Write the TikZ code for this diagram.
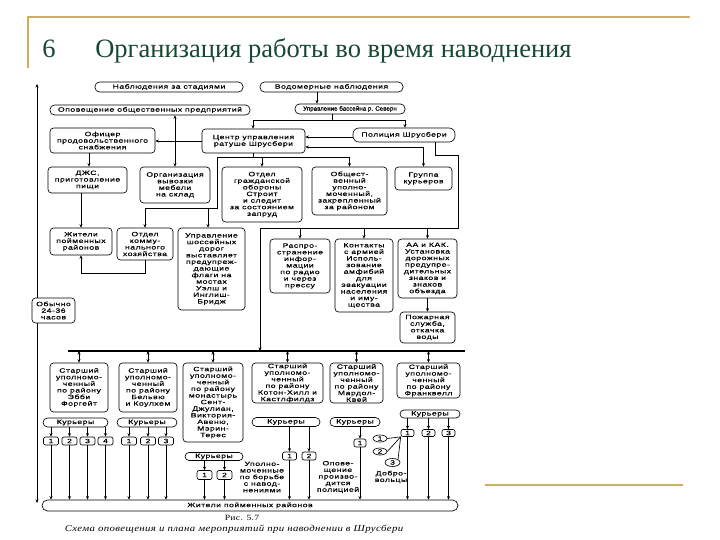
\documentclass[tikz,border=0pt]{standalone}
\usepackage{fontspec}
\setmainfont{Liberation Serif}
\newfontfamily\dfont[FakeStretch=1.4,LetterSpace=8,FakeBold=0.4]{Liberation Sans}
\newfontfamily\dfontn[FakeBold=0.4]{Liberation Sans}
\newfontfamily\capfont[FakeStretch=1.2,LetterSpace=4]{Liberation Serif}
\usetikzlibrary{arrows.meta,shapes.geometric}
\definecolor{gold}{RGB}{204,176,96}
\definecolor{ttl}{RGB}{24,72,52}
\newcommand\dsz{\dfont\fontsize{6.2}{6.6}\selectfont}
\newcommand\dszn{\dfontn\fontsize{6.2}{6.6}\selectfont}
\begin{document}
\begin{tikzpicture}[x=1pt,y=-1pt, line width=0.65pt, >={Stealth[length=3.5pt,width=3pt]},
 bx/.style={draw, rounded corners=3.5pt, align=center, inner sep=0.5pt, font=\dsz, fill=white},
 pill/.style={draw, rounded corners=4.5pt, align=center, inner sep=0.5pt, font=\dsz, fill=white},
 nb/.style={draw, rounded corners=2pt, inner sep=0pt, font=\dsz, fill=white, minimum height=8},
 el/.style={draw, ellipse, inner sep=0pt, font=\dsz, fill=white, minimum width=14, minimum height=7},
 lbl/.style={align=center, inner sep=0pt, font=\dsz},
 ar/.style={->}, dar/.style={<->}]
\useasboundingbox (0,0) rectangle (720,540);
% slide decoration
\draw[gold, line width=2pt] (27,17) -- (690,17);
\draw[gold, line width=1.5pt] (28,17) -- (28,68);
\draw[gold, line width=2pt] (485,485) -- (683,485);
\node[anchor=base west, inner sep=0, text=ttl, font=\fontsize{26.5}{30}\selectfont] (num) at (42,58) {6};
\node[anchor=base west, inner sep=0, text=ttl, font=\fontsize{26.5}{30}\selectfont] (title) at (95,58) {Организация работы во время наводнения};

% left time line
\coordinate (Ltop) at (37,84);
\coordinate (Lbot) at (37,503);
\draw[dar] (Ltop) -- (Lbot);

% top rows
\node[pill, minimum width=148, minimum height=10] (A) at (169,87) {Наблюдения за стадиями};
\node[pill, minimum width=143, minimum height=10] (B) at (331.5,87) {Водомерные наблюдения};
\node[pill, minimum width=200, minimum height=10] (C) at (150,110) {Оповещение общественных предприятий};
\node[pill, minimum width=110, minimum height=10, font=\dszn] (D) at (350,109) {Управление бассейна р. Северн};
\node[bx, minimum width=105, minimum height=25] (E) at (102.5,140.5) {Офицер\\продовольственного\\снабжения};
\node[bx, minimum width=103, minimum height=24] (F) at (253.5,141) {Центр управления\\ратуше Шрусбери};
\node[pill, minimum width=102, minimum height=14, rounded corners=6pt] (G) at (404,135) {Полиция Шрусбери};

\node[bx, minimum width=79, minimum height=26] (H) at (87.5,180) {ДЖС,\\приготовление\\пищи};
\node[bx, minimum width=70, minimum height=36] (I) at (175,185) {Организация\\вывозки\\мебели\\на склад};
\node[bx, minimum width=80, minimum height=55] (J) at (262,194.5) {Отдел\\гражданской\\обороны\\Строит\\и следит\\за состоянием\\запруд};
\node[bx, minimum width=75, minimum height=48] (K) at (349.5,191) {Общест-\\венный\\уполно-\\моченный,\\закрепленный\\за районом};
\node[bx, minimum width=57, minimum height=23] (L) at (423.5,178.5) {Группа\\курьеров};

\node[bx, minimum width=62, minimum height=27] (M) at (81,241.5) {Жители\\пойменных\\районов};
\node[bx, minimum width=56, minimum height=32] (N) at (145,244) {Отдел\\комму-\\нального\\хозяйства};
\node[bx, minimum width=67, minimum height=82] (O) at (211.5,269) {Управление\\шоссейных\\дорог\\выставляет\\предупреж-\\дающие\\флаги на\\мостах\\Уэлш и\\Инглиш-\\Бридж};
\node[bx, minimum width=60, minimum height=54] (P) at (300,266) {Распро-\\странение\\инфор-\\мации\\по радио\\и через\\прессу};
\node[bx, minimum width=58, minimum height=73] (Q) at (364,275.5) {Контакты\\с армией\\Исполь-\\зование\\амфибий\\для\\эвакуации\\населения\\и иму-\\щества};
\node[bx, minimum width=59, minimum height=59] (R) at (427.5,268.5) {АА и КАК.\\Установка\\дорожных\\предупре-\\дительных\\знаков и\\знаков\\объезда};
\node[bx, minimum width=55, minimum height=31] (S) at (427.5,327.5) {Пожарная\\служба,\\откачка\\воды};
\node[bx, minimum width=43, minimum height=25] (T) at (53.5,310.5) {Обычно\\24-36\\часов};

% district wardens
\node[bx, minimum width=58, minimum height=49] (S1) at (79,387.5) {Старший\\уполномо-\\ченный\\по району\\Эбби\\Форгейт};
\node[bx, minimum width=58, minimum height=49] (S2) at (148,387.5) {Старший\\уполномо-\\ченный\\по району\\Бельвю\\и Коулхем};
\node[bx, minimum width=60, minimum height=79] (S3) at (213,402.5) {Старший\\уполномо-\\ченный\\по району\\монастырь\\Сент-\\Джулиан,\\Виктория-\\Авеню,\\Мэрин-\\Терес};
\node[bx, minimum width=71, minimum height=40] (S4) at (287.5,383) {Старший\\уполномо-\\ченный\\по району\\Котон-Хилл и\\Кастлфилдз};
\node[bx, minimum width=53, minimum height=40] (S5) at (356.5,383) {Старший\\уполномо-\\ченный\\по району\\Мардол-\\Квей};
\node[bx, minimum width=63, minimum height=35] (S6) at (428.5,380.5) {Старший\\уполномо-\\ченный\\по району\\Франквелл};

% couriers
\node[pill, minimum width=65, minimum height=9] (K1) at (75.5,422.5) {Курьеры};
\node[pill, minimum width=60, minimum height=9] (K2) at (147,422.5) {Курьеры};
\node[pill, minimum width=58, minimum height=8, rounded corners=4pt] (K3) at (214,456.5) {Курьеры};
\node[pill, minimum width=68, minimum height=9] (K4) at (286,422) {Курьеры};
\node[pill, minimum width=50, minimum height=9] (K5) at (355,422) {Курьеры};
\node[pill, minimum width=60, minimum height=8, rounded corners=4pt] (K6) at (430,414) {Курьеры};

\node[nb, minimum width=15] (n11) at (51,441) {1};
\node[nb, minimum width=15] (n12) at (69.5,441) {2};
\node[nb, minimum width=15] (n13) at (87.5,441) {3};
\node[nb, minimum width=15] (n14) at (105.5,441) {4};
\node[nb, minimum width=15] (n21) at (129,441) {1};
\node[nb, minimum width=15] (n22) at (148,441) {2};
\node[nb, minimum width=15] (n23) at (166,441) {3};
\node[nb, minimum width=15, minimum height=9] (n31) at (204.5,475) {1};
\node[nb, minimum width=15, minimum height=9] (n32) at (224.5,475) {2};
\node[nb, minimum width=14] (n41) at (289.5,456) {1};
\node[nb, minimum width=14] (n42) at (309,456) {2};
\node[nb, minimum width=12] (n51) at (360,443) {1};
\node[nb, minimum width=13, minimum height=7] (n61) at (407.5,433) {1};
\node[nb, minimum width=13, minimum height=7] (n62) at (428.5,433) {2};
\node[nb, minimum width=13, minimum height=7] (n63) at (448.5,433) {3};

\node[el] (e1) at (380,438.5) {1};
\node[el] (e2) at (380,451.5) {2};
\node[el, minimum width=15, minimum height=8] (e3) at (392.5,462.5) {3};
\node[lbl] (vol) at (391,477) {Добро-\\вольцы};
\node[lbl] (U1) at (262,477) {Уполно-\\моченные\\по борьбе\\с навод-\\нениями};
\node[lbl] (U2) at (338,477) {Опове-\\щение\\произво-\\дится\\полицией};

\node[pill, minimum width=416, minimum height=11, rounded corners=5.5pt] (BB) at (250,505.5) {Жители пойменных районов};

% caption
\node[font=\capfont\fontsize{8}{9}\selectfont, inner sep=0] (cap1) at (242,518) {Рис. 5.7};
\node[font=\capfont\itshape\fontsize{9}{10}\selectfont, inner sep=0] (cap2) at (234,529) {Схема оповещения и плана мероприятий при наводнении в Шрусбери};

% guide coordinates
\coordinate (g317) at (317,0);
\coordinate (g332) at (332,0);
\coordinate (g253) at (253,0);
\coordinate (g405) at (405,0);
\coordinate (g435) at (435,0);
\coordinate (g458) at (458,0);
\coordinate (g260) at (260,0);
\coordinate (g217) at (217,0);
\coordinate (g208) at (208,0);
\coordinate (g89) at (89,0);
\coordinate (r120) at (0,120);
\coordinate (r137) at (0,137);
\coordinate (r141) at (0,141);
\coordinate (r147) at (0,147);
\coordinate (r155) at (0,155);
\coordinate (r157) at (0,157);
\coordinate (r208) at (0,208);
\coordinate (r228) at (0,228);
\coordinate (r273) at (0,273);
\coordinate (busL) at (68,351);
\coordinate (busR) at (465,351);

% connectors: top
\draw[ar] (g317 |- B.south) -- (g317 |- D.north);
\draw (g332 |- D.south) -- (g332 |- r120);
\draw (g253 |- r120) -- (g405 |- r120);
\draw[ar] (g253 |- r120) -- (g253 |- F.north);
\draw[ar] (g405 |- r120) -- (g405 |- G.north);
\draw[ar] (G.west |- r137) -- (F.east |- r137);
\draw[dar] (F.east |- r147) -| (L.north);
\draw[ar] (F.west |- r141) -- (E.east |- r141);
\draw[dar] (C.south -| I.north) -- (I.north);
\draw[ar] (g89 |- E.south) -- (g89 |- H.north);
\draw[ar] (H.south -| M.north) -- (M.north);
\draw[ar] (N.south) |- (r273 -| M.south) -- (M.south);

% from town hall downward
\draw (F.south) -- (F.south |- r157);
\draw (g217 |- r157) -- (K.north |- r157);
\draw[ar] (J.north |- r157) -- (J.north);
\draw[ar] (K.north |- r157) -- (K.north);
\draw (g217 |- r157) -- (g217 |- r208) -- (N.north |- r208);
\draw[ar] (N.north |- r208) -- (N.north);
\draw[ar] (g208 |- r208) -- (g208 |- O.north);

% from police
\draw[ar] (g435 |- G.south) |- (g458 |- r155) -- (g458 |- r228) -- (g260 |- r228) -- (g260 |- busL);
\draw[ar] (P.north |- r228) -- (P.north);
\draw[ar] (Q.north |- r228) -- (Q.north);
\draw[ar] (R.north |- r228) -- (R.north);
\draw[ar] (R.south) -- (S.north);

% bus to wardens
\draw[line width=1.1pt] (busL) -- (busR);
\foreach \s in {S1,S2,S3,S4,S5,S6} \draw[dar] (busL -| \s.north) -- (\s.north);

% couriers
\foreach \n in {n11,n12,n13,n14} \draw[ar] (K1.south -| \n.north) -- (\n.north);
\foreach \n in {n21,n22,n23} \draw[ar] (K2.south -| \n.north) -- (\n.north);
\foreach \n in {n31,n32} \draw[ar] (K3.south -| \n.north) -- (\n.north);
\foreach \n in {n41,n42} \draw[ar] (K4.south -| \n.north) -- (\n.north);
\draw[ar] (K5.south -| n51.north) -- (n51.north);
\foreach \n in {n61,n62,n63} \draw[ar] (K6.south -| \n.north) -- (\n.north);
\foreach \n in {n11,n12,n13,n14,n21,n22,n23,n31,n32,n41,n42,n51,n61,n62,n63}
  \draw[ar] (\n.south) -- (\n.south |- BB.north);
\draw (n61.south west) -- (e1.east);
\draw (n61.south west) -- (e2.east);
\draw (n61.south west) -- (e3.north east);
\end{tikzpicture}
\end{document}
